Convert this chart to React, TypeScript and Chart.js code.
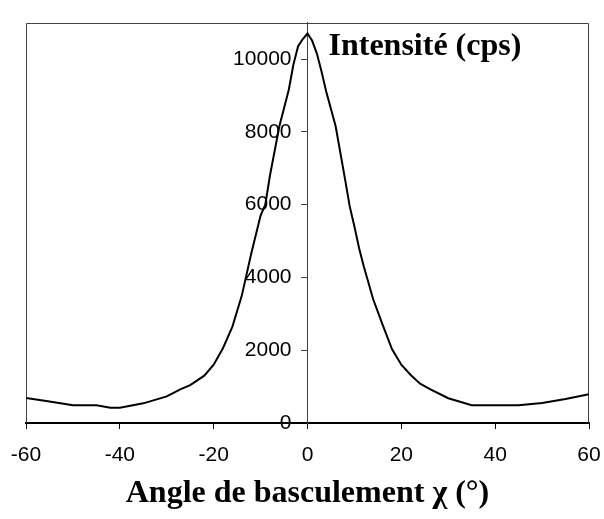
import React, { useEffect, useRef } from 'react';
import { Chart, registerables } from 'chart.js';

Chart.register(...registerables);

// Tilt angle χ (°)
const angles = [
  -60, -55, -50, -45, -42, -40, -35, -30, -27, -25, -22, -20, -18, -16, -14, -12,
  -10, -9, -8, -6, -4, -3, -2, -1, 0, 1, 2, 3, 4, 6, 8, 9, 10, 11, 12, 14, 16, 18,
  20, 22, 24, 26, 30, 35, 40, 45, 50, 55, 60,
];
// Intensity (cps)
const intensities = [
  690, 590, 490, 490, 420, 420, 540, 730, 930, 1040, 1300, 1600, 2060, 2650, 3500, 4650,
  5700, 6000, 6800, 8150, 9150, 9850, 10350, 10550, 10700, 10500, 10150, 9650, 9100, 8150, 6700, 5950, 5400, 4800, 4300, 3400, 2700, 2030,
  1600, 1320, 1080, 940, 680, 490, 490, 490, 550, 660, 790,
];
const xTicks = [-60, -40, -20, 0, 20, 40, 60];
const yTicks = [0, 2000, 4000, 6000, 8000, 10000];
const xMin = -60;
const xMax = 60;
const yMax = 11000;
const chartTitle = 'Intensité (cps)';
const xTitle = 'Angle de basculement χ (°)';

export default function App() {
  const ref = useRef<HTMLCanvasElement>(null);

  useEffect(() => {
    document.body.style.margin = '0';
    const canvas = ref.current;
    if (!canvas) return;

    const framePlugin = {
      id: 'frame',
      beforeDatasetsDraw(chart: any) {
        const { ctx, chartArea: a } = chart;
        ctx.save();
        ctx.strokeStyle = '#404040';
        ctx.lineWidth = 1;
        ctx.beginPath();
        ctx.moveTo(Math.round(a.left) + 0.5, a.bottom);
        ctx.lineTo(Math.round(a.left) + 0.5, Math.round(a.top) + 0.5);
        ctx.lineTo(Math.round(a.right) - 0.5, Math.round(a.top) + 0.5);
        ctx.lineTo(Math.round(a.right) - 0.5, a.bottom);
        ctx.stroke();
        ctx.restore();
      },
      afterDraw(chart: any) {
        const { ctx, chartArea: a, scales } = chart;
        ctx.save();
        ctx.font = 'bold 32px "Liberation Serif", "Times New Roman", serif';
        ctx.fillStyle = '#000';
        ctx.textAlign = 'left';
        ctx.textBaseline = 'alphabetic';
        ctx.fillText(chartTitle, scales.x.getPixelForValue(0) + 21, a.top + 32);
        ctx.restore();
      },
    };

    const Y_LABEL_GAP = 16;

    const chart = new Chart(canvas, {
      type: 'line',
      data: {
        datasets: [
          {
            data: angles.map((a, i) => ({ x: a, y: intensities[i] })),
            borderColor: '#000',
            borderWidth: 2,
            pointRadius: 0,
            tension: 0,
            fill: false,
          },
        ],
      },
      options: {
        animation: false,
        responsive: false,
        layout: { padding: { left: 26, right: 15, top: 7, bottom: 0 } },
        plugins: {
          legend: { display: false },
          tooltip: { enabled: false },
          title: { display: false },
        },
        scales: {
          x: {
            type: 'linear',
            min: xMin,
            max: xMax,
            afterBuildTicks: (s: any) => {
              s.ticks = xTicks.map((v) => ({ value: v }));
            },
            afterFit: (s: any) => {
              s.height = 96;
              s.paddingLeft = 0;
              s.paddingRight = 0;
            },
            grid: { drawOnChartArea: false, drawTicks: true, tickLength: 6, color: '#000', lineWidth: 1 },
            border: { color: '#000', width: 2 },
            ticks: {
              font: { family: '"Liberation Sans", Arial, sans-serif', size: 21 },
              color: '#000',
              padding: 14,
              maxRotation: 0,
              autoSkip: false,
              callback: (v: any) => String(v),
            },
            title: {
              display: true,
              text: xTitle,
              color: '#000',
              font: { family: '"Liberation Serif", "Times New Roman", serif', size: 32, weight: 'bold' },
              padding: { top: 0, bottom: 6 },
            },
          },
          y: {
            type: 'linear',
            position: { x: 0 },
            min: 0,
            max: yMax,
            afterBuildTicks: (s: any) => {
              s.ticks = yTicks.map((v) => ({ value: v }));
            },
            afterUpdate: (s: any) => {
              const proto = Object.getPrototypeOf(s);
              s._computeLabelItems = function (ca: any) {
                const items = proto._computeLabelItems.call(this, ca);
                items.forEach((it: any) => {
                  if (it && it.options && it.options.translation) {
                    it.options.translation = [it.options.translation[0] - Y_LABEL_GAP, it.options.translation[1]];
                  }
                });
                return items;
              };
              s._labelItems = null;
            },
            grid: { drawOnChartArea: false, drawTicks: true, tickLength: 6, color: '#404040', lineWidth: 1 },
            border: { color: '#404040', width: 1 },
            ticks: {
              font: { family: '"Liberation Sans", Arial, sans-serif', size: 21 },
              color: '#000',
              padding: 10,
              autoSkip: false,
              callback: (v: any) => String(v),
            },
          },
        },
      } as any,
      plugins: [framePlugin],
    });

    return () => chart.destroy();
  }, []);

  return (
    <div style={{ width: 604, height: 519, position: 'relative' }}>
      <canvas ref={ref} width={604} height={519} style={{ display: 'block' }} />
    </div>
  );
}
